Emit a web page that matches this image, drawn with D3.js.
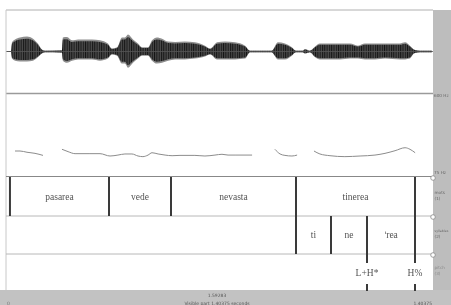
<!DOCTYPE html>
<html><head><meta charset="utf-8">
<script src="https://cdn.jsdelivr.net/npm/d3@7"></script>
<style>html,body{margin:0;padding:0;background:#fff;}svg{display:block;}text{opacity:0.99;}</style>
</head><body>
<script>
// ---------- data ----------
const totalDur = 1.40375;
const cursorTime = "1.59283";
const visibleLabel = "Visible part 1.40375 seconds";
const endLabel = "1.40375";
const pitchMin = 75, pitchMax = 600;
const pitchTickLabels = ["600 Hz", "75 Hz"];
const tierNames = [["mots", "(1)"], ["syllables", "(2)"], ["pitch", "(3)"]];

// waveform envelope: time (s), upper amplitude, lower amplitude
const waveT  = [0,0.0164,0.0197,0.0296,0.046,0.069,0.0888,0.105,0.118,0.128,0.184,0.187,0.2005,0.217,0.237,0.26,0.283,0.309,0.335,0.348,0.365,0.381,0.391,0.401,0.4175,0.434,0.447,0.467,0.48,0.496,0.513,0.533,0.556,0.588,0.621,0.654,0.671,0.694,0.72,0.753,0.786,0.802,0.874,0.878,0.894,0.917,0.94,0.953,0.975,0.983,0.999,1.016,1.032,1.065,1.098,1.131,1.157,1.18,1.213,1.246,1.295,1.312,1.328,1.341,1.361,1.4];
const waveUp = [0.01,0.01,0.22,0.29,0.34,0.36,0.31,0.19,0.05,0.02,0.03,0.34,0.35,0.27,0.29,0.29,0.29,0.27,0.19,0.07,0.10,0.34,0.34,0.41,0.29,0.19,0.10,0.10,0.27,0.34,0.31,0.24,0.23,0.24,0.22,0.14,0.07,0.22,0.24,0.22,0.14,0.02,0.02,0.05,0.22,0.19,0.10,0.02,0.02,0.06,0.02,0.12,0.19,0.19,0.19,0.19,0.14,0.19,0.19,0.19,0.19,0.22,0.14,0.05,0.02,0.02];
const waveLo = [0.01,0.01,0.17,0.22,0.24,0.24,0.22,0.14,0.05,0.02,0.03,0.22,0.27,0.22,0.19,0.19,0.19,0.22,0.17,0.07,0.10,0.29,0.29,0.39,0.27,0.17,0.10,0.10,0.22,0.29,0.27,0.22,0.19,0.19,0.17,0.12,0.07,0.19,0.19,0.19,0.17,0.02,0.02,0.05,0.19,0.19,0.10,0.02,0.02,0.05,0.02,0.14,0.19,0.19,0.19,0.17,0.17,0.19,0.19,0.17,0.19,0.19,0.17,0.05,0.02,0.02];

// pitch contour segments: [time s, Hz]
const pitchSeg1 = [[0.0296,235],[0.046,235],[0.069,227],[0.0953,220],[0.1216,207]];
const pitchSeg2 = [[0.184,246],[0.204,231],[0.227,218],[0.276,218],[0.309,218],[0.342,203],[0.368,209],[0.391,216],[0.414,216],[0.434,203],[0.45,199],[0.467,209],[0.48,224],[0.5,216],[0.523,209],[0.546,205],[0.572,207],[0.621,207],[0.654,203],[0.687,209],[0.71,214],[0.73,209],[0.753,209],[0.809,209]];
const pitchSeg3 = [[0.884,246],[0.901,216],[0.917,207],[0.94,203],[0.957,209]];
const pitchSeg4 = [[1.0125,235],[1.032,216],[1.065,205],[1.114,199],[1.164,203],[1.213,209],[1.246,220],[1.279,237],[1.312,256],[1.328,246],[1.345,224]];

// tiers
const wordBounds = [0.013,0.3386,0.5424,0.9533,1.3445];
const wordLabels = ["pasarea","vede","nevasta","tinerea"];
const sylBounds  = [0.9533,1.0684,1.1868,1.3445];
const sylLabels  = ["ti","ne","\u02C8rea"];
const tonePoints = [1.1868,1.3445];
const toneLabels = ["L+H*","H%"];

// ---------- drawing ----------
const W = 451, H = 305;
const L = 6, R = 433;
const svg = d3.select("body").append("svg").attr("width", W).attr("height", H);

const x = d3.scaleLinear().domain([0, totalDur]).range([L, R]);
const yWave = d3.scaleLinear().domain([-1, 1]).range([93, 10]);
const yPitch = d3.scaleLinear().domain([pitchMin, pitchMax]).range([176, 94]);
const tierTop = [177, 216, 254], tierBot = [216, 254, 290];

// gray margins
svg.append("rect").attr("x", R).attr("y", 0).attr("width", W - R).attr("height", H).attr("fill", "#bdbdbd");
svg.append("rect").attr("x", 0).attr("y", 290).attr("width", W).attr("height", H - 290).attr("fill", "#c2c2c2");
svg.append("rect").attr("x", R).attr("y", 0).attr("width", W - R).attr("height", 10).attr("fill", "#fff");

// defs
const defs = svg.append("defs");
const pat = defs.append("pattern").attr("id", "stripes").attr("patternUnits", "userSpaceOnUse")
  .attr("width", 2.3).attr("height", 4);
pat.append("rect").attr("width", 2.3).attr("height", 4).attr("fill", "#4a4a4a");
pat.append("rect").attr("width", 1).attr("height", 4).attr("fill", "#161616");
const blur = defs.append("filter").attr("id", "soft");
blur.append("feGaussianBlur").attr("stdDeviation", 0.7);
const blur2 = defs.append("filter").attr("id", "soft2");
blur2.append("feGaussianBlur").attr("stdDeviation", 0.4);

// waveform
const waveData = waveT.map((t, i) => ({t, up: waveUp[i], lo: waveLo[i]}));
const area = d3.area().x(d => x(d.t)).y0(d => yWave(-d.lo)).y1(d => yWave(d.up)).curve(d3.curveMonotoneX);
svg.append("path").datum(waveData).attr("d", area).attr("fill", "#8e8e8e").attr("filter", "url(#soft)");
const areaInner = d3.area().x(d => x(d.t)).y0(d => yWave(-d.lo * 0.85)).y1(d => yWave(d.up * 0.85)).curve(d3.curveMonotoneX);
svg.append("path").datum(waveData).attr("d", areaInner).attr("fill", "url(#stripes)").attr("filter", "url(#soft2)");
svg.append("line").attr("x1", L).attr("x2", R).attr("y1", yWave(0)).attr("y2", yWave(0))
  .attr("stroke", "#555").attr("stroke-width", 0.8);

// panel frame lines
svg.append("line").attr("x1", L).attr("x2", R).attr("y1", 10).attr("y2", 10).attr("stroke", "#b0b0b0").attr("stroke-width", 1);
svg.append("line").attr("x1", L).attr("x2", R).attr("y1", 93.5).attr("y2", 93.5).attr("stroke", "#9a9a9a").attr("stroke-width", 1.5);
svg.append("line").attr("x1", L).attr("x2", L).attr("y1", 10).attr("y2", 290).attr("stroke", "#c8c8c8").attr("stroke-width", 1);
svg.append("line").attr("x1", L).attr("x2", R).attr("y1", 176.5).attr("y2", 176.5).attr("stroke", "#888").attr("stroke-width", 1.2);
[216, 254].forEach(yy => svg.append("line").attr("x1", L).attr("x2", R).attr("y1", yy).attr("y2", yy)
  .attr("stroke", "#b8b8b8").attr("stroke-width", 1));

// pitch
const pline = d3.line().x(d => x(d[0])).y(d => yPitch(d[1])).curve(d3.curveMonotoneX);
[pitchSeg1, pitchSeg2, pitchSeg3, pitchSeg4].forEach(seg =>
  svg.append("path").datum(seg).attr("d", pline).attr("fill", "none").attr("stroke", "#8c8c8c").attr("stroke-width", 1));

// tiers
const serif = "'Liberation Serif','DejaVu Serif',serif";
function bound(t, y1, y2) {
  svg.append("line").attr("x1", x(t)).attr("x2", x(t)).attr("y1", y1).attr("y2", y2)
    .attr("stroke", "#3a3a3a").attr("stroke-width", 2);
}
function label(lab, cx, y) {
  const t = svg.append("text").attr("x", cx).attr("y", y).attr("text-anchor", "middle")
    .attr("font-family", serif).attr("font-size", 9.5).attr("fill", "#505050");
  if (lab.startsWith("\u02C8")) {
    t.append("tspan").attr("font-family", "'DejaVu Sans',sans-serif").attr("font-size", 9.5).text("\u02C8");
    t.append("tspan").attr("dx", -0.5).text(lab.slice(1));
  } else t.text(lab);
}
wordBounds.forEach(t => bound(t, tierTop[0], tierBot[0]));
wordLabels.forEach((lab, i) => label(lab, (x(wordBounds[i]) + x(wordBounds[i + 1])) / 2, 200));
sylBounds.forEach(t => bound(t, tierTop[1], tierBot[1]));
sylLabels.forEach((lab, i) => label(lab, (x(sylBounds[i]) + x(sylBounds[i + 1])) / 2, 238));
tonePoints.forEach((t, i) => {
  bound(t, tierTop[2], 263);
  bound(t, 284, 291);
  label(toneLabels[i], x(t), 276);
});

// right strip labels
const small = "'DejaVu Sans',sans-serif";
svg.append("text").attr("x", R + 1).attr("y", yPitch(pitchMax) + 3).attr("font-family", small).attr("font-size", 4.2)
  .attr("fill", "#666").text(pitchTickLabels[0]);
svg.append("text").attr("x", R + 1).attr("y", yPitch(pitchMin) - 2).attr("font-family", small).attr("font-size", 4.2)
  .attr("fill", "#666").text(pitchTickLabels[1]);
tierNames.forEach((nm, i) => {
  const cy = (tierTop[i] + tierBot[i]) / 2;
  svg.append("text").attr("x", R + 1.5).attr("y", cy - 3).attr("font-family", small)
    .attr("font-size", nm[0].length > 6 ? 3.2 : 4.2)
    .attr("fill", i === 2 ? "#8a8a8a" : "#666").text(nm[0]);
  svg.append("text").attr("x", R + 1.5).attr("y", cy + 3).attr("font-family", small).attr("font-size", 4.2)
    .attr("fill", i === 2 ? "#8a8a8a" : "#666").text(nm[1]);
  svg.append("circle").attr("cx", R).attr("cy", tierTop[i] + 1).attr("r", 2.3)
    .attr("fill", "#fff").attr("stroke", "#8a8a8a").attr("stroke-width", 0.8);
});

// bottom strip labels
svg.append("text").attr("x", 217).attr("y", 297).attr("text-anchor", "middle").attr("font-family", small)
  .attr("font-size", 4.5).attr("fill", "#555").text(cursorTime);
svg.append("text").attr("x", 217).attr("y", 304.5).attr("text-anchor", "middle").attr("font-family", small)
  .attr("font-size", 4.5).attr("fill", "#555").text(visibleLabel);
svg.append("text").attr("x", R - 1).attr("y", 304.5).attr("text-anchor", "end").attr("font-family", small)
  .attr("font-size", 4.5).attr("fill", "#555").text(endLabel);
svg.append("text").attr("x", L + 1).attr("y", 304.5).attr("font-family", small)
  .attr("font-size", 4.5).attr("fill", "#777").text("0");
</script>
</body></html>
